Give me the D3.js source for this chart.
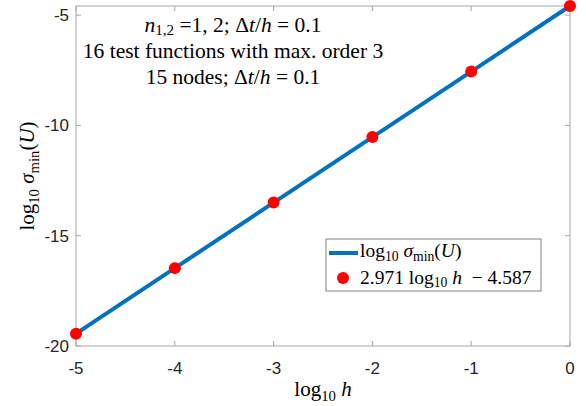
<!DOCTYPE html>
<html><head><meta charset="utf-8">
<script src="https://cdn.jsdelivr.net/npm/d3@7"></script>
<style>
html,body{margin:0;padding:0;background:#fff;}
svg{display:block;}
</style></head>
<body>
<script>
// ---- data ----
const logH = [-5, -4, -3, -2, -1, 0];
const logSigma = [-19.44, -16.47, -13.50, -10.53, -7.56, -4.587];
const xTickValues = [-5, -4, -3, -2, -1, 0];
const yTickValues = [-20, -15, -10, -5];
const xDomain = [-5, 0];
const yDomain = [-20, -4.587];
const annotationLines = [
  [{t:"n", i:1}, {t:"1,2", sub:1}, {t:" =1, 2; Δ"}, {t:"t", i:1}, {t:"/"}, {t:"h", i:1}, {t:" = 0.1"}],
  [{t:"16 test functions with max. order 3"}],
  [{t:"15 nodes; Δ"}, {t:"t", i:1}, {t:"/"}, {t:"h", i:1}, {t:" = 0.1"}]
];
const legendLabels = [
  [{t:"log"}, {t:"10", sub:1}, {t:" "}, {t:"σ", i:1}, {t:"min", sub:1}, {t:"("}, {t:"U", i:1}, {t:")"}],
  [{t:"2.971 log"}, {t:"10", sub:1}, {t:" "}, {t:"h", i:1}, {t:"  − 4.587"}]
];
const xLabel = [{t:"log"}, {t:"10", sub:1}, {t:" "}, {t:"h", i:1}];
const yLabel = [{t:"log"}, {t:"10", sub:1}, {t:" "}, {t:"σ", i:1}, {t:"min", sub:1}, {t:"("}, {t:"U", i:1}, {t:")"}];

// ---- layout ----
const W = 586, H = 406;
const m = {left: 76, right: 570, top: 6, bottom: 346};
const serif = "'Liberation Serif', 'Times New Roman', serif";
const sans = "'Liberation Sans', Arial, Helvetica, sans-serif";

const svg = d3.select("body").append("svg").attr("width", W).attr("height", H);

const x = d3.scaleLinear().domain(xDomain).range([m.left, m.right]);
const y = d3.scaleLinear().domain(yDomain).range([m.bottom, m.top]);

function rich(sel, parts, size, shift) {
  let inSub = false;
  const subShift = size * (shift || 0.2);
  parts.forEach(p => {
    const ts = sel.append("tspan").text(p.t).attr("xml:space", "preserve");
    if (p.i) ts.attr("font-style", "italic");
    if (p.sub) {
      ts.attr("font-size", size * 0.7);
      if (!inSub) { ts.attr("dy", subShift); inSub = true; }
    } else if (inSub) {
      ts.attr("dy", -subShift); inSub = false;
    }
  });
  return sel;
}

// axes box
const axisColor = "#a6a6a6";
svg.append("rect").attr("x", m.left).attr("y", m.top)
  .attr("width", m.right - m.left).attr("height", m.bottom - m.top)
  .attr("fill", "#fff").attr("stroke", axisColor).attr("stroke-width", 1);

// ticks (inside, all four sides)
const tl = 5;
const g = svg.append("g").attr("stroke", axisColor).attr("stroke-width", 1);
xTickValues.forEach(v => {
  g.append("line").attr("x1", x(v)).attr("x2", x(v)).attr("y1", m.bottom).attr("y2", m.bottom - tl);
  g.append("line").attr("x1", x(v)).attr("x2", x(v)).attr("y1", m.top).attr("y2", m.top + tl);
});
yTickValues.forEach(v => {
  g.append("line").attr("y1", y(v)).attr("y2", y(v)).attr("x1", m.left).attr("x2", m.left + tl);
  g.append("line").attr("y1", y(v)).attr("y2", y(v)).attr("x1", m.right).attr("x2", m.right - tl);
});

// tick labels
const tickColor = "#262626";
svg.append("g").selectAll("text").data(xTickValues).join("text")
  .attr("x", d => x(d)).attr("y", m.bottom + 28)
  .attr("text-anchor", "middle").attr("font-family", sans).attr("font-size", 17)
  .attr("fill", tickColor).text(d => d);
svg.append("g").selectAll("text").data(yTickValues).join("text")
  .attr("x", m.left - 7).attr("y", d => y(d) + 6)
  .attr("text-anchor", "end").attr("font-family", sans).attr("font-size", 17)
  .attr("fill", tickColor).text(d => d);

// data line + points
const line = d3.line().x((d, i) => x(logH[i])).y(d => y(d));
svg.append("path").datum(logSigma).attr("d", line)
  .attr("fill", "none").attr("stroke", "#0072BD").attr("stroke-width", 4);
svg.append("g").selectAll("circle").data(logSigma).join("circle")
  .attr("cx", (d, i) => x(logH[i])).attr("cy", d => y(d)).attr("r", 6)
  .attr("fill", "#ff0000");

// annotation
const annY = [32, 58, 84];
annotationLines.forEach((parts, k) => {
  const t = svg.append("text").attr("x", 233).attr("y", annY[k])
    .attr("text-anchor", "middle").attr("font-family", serif).attr("font-size", 21.5)
    .attr("fill", "#000");
  rich(t, parts, 21.5, 0.15);
});

// axis labels
const xl = svg.append("text").attr("x", (m.left + m.right) / 2).attr("y", 396)
  .attr("text-anchor", "middle").attr("font-family", serif).attr("font-size", 21).attr("fill", "#000");
rich(xl, xLabel, 21, 0.22);
const yl = svg.append("text").attr("transform", `translate(34,${(m.top + m.bottom) / 2}) rotate(-90)`)
  .attr("text-anchor", "middle").attr("font-family", serif).attr("font-size", 21).attr("fill", "#000");
rich(yl, yLabel, 21, 0.22);

// legend
const lg = svg.append("g");
lg.append("rect").attr("x", 326).attr("y", 239).attr("width", 215).attr("height", 52)
  .attr("fill", "#fff").attr("stroke", "#808080").attr("stroke-width", 1);
lg.append("line").attr("x1", 329).attr("x2", 358).attr("y1", 253).attr("y2", 253)
  .attr("stroke", "#0072BD").attr("stroke-width", 4);
lg.append("circle").attr("cx", 343).attr("cy", 278).attr("r", 6).attr("fill", "#ff0000");
const legY = [257, 283.5];
legendLabels.forEach((parts, k) => {
  const t = lg.append("text").attr("x", 360).attr("y", legY[k])
    .attr("font-family", serif).attr("font-size", 19.5).attr("fill", "#000");
  rich(t, parts, 19.5, 0.2);
});
</script>
</body></html>
